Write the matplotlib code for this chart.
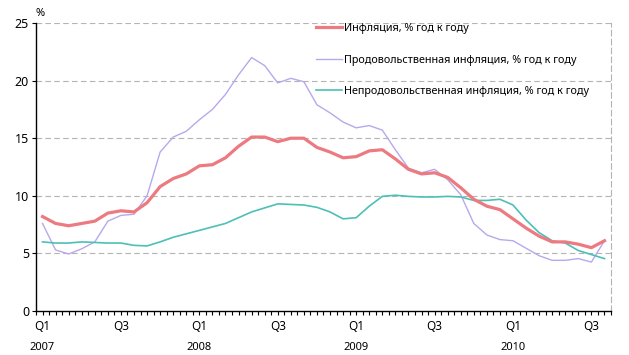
import numpy as np
import matplotlib
matplotlib.use('Agg')
import matplotlib.pyplot as plt
import matplotlib.transforms as mtransforms

plt.rcParams['font.family'] = ['Noto Sans', 'DejaVu Sans']

# месяцы: январь 2007 - август 2010
months = np.arange(44)
quarter_pos = [0, 6, 12, 18, 24, 30, 36, 42]
quarter_lbl = ['Q1', 'Q3', 'Q1', 'Q3', 'Q1', 'Q3', 'Q1', 'Q3']
year_pos = [0, 12, 24, 36]
year_lbl = ['2007', '2008', '2009', '2010']

# инфляция, % год к году
cpi = [8.2, 7.6, 7.4, 7.6, 7.8, 8.5, 8.7, 8.6, 9.4, 10.8, 11.5, 11.9,
       12.6, 12.7, 13.3, 14.3, 15.1, 15.1, 14.7, 15.0, 15.0, 14.2, 13.8, 13.3,
       13.4, 13.9, 14.0, 13.2, 12.3, 11.9, 12.0, 11.6, 10.7, 9.7, 9.1, 8.8,
       8.0, 7.2, 6.5, 6.0, 6.0, 5.8, 5.5, 6.1]
# продовольственная
food = [7.6, 5.3, 4.95, 5.4, 6.0, 7.8, 8.3, 8.4, 10.0, 13.8, 15.1, 15.6,
        16.6, 17.5, 18.8, 20.5, 22.0, 21.3, 19.8, 20.2, 19.9, 17.9, 17.2, 16.4,
        15.9, 16.1, 15.7, 14.0, 12.4, 12.0, 12.3, 11.4, 10.1, 7.6, 6.6, 6.2,
        6.1, 5.45, 4.8, 4.4, 4.4, 4.55, 4.25, 6.1]
# непродовольственная
nonfood = [6.0, 5.9, 5.9, 6.0, 5.95, 5.9, 5.9, 5.7, 5.65, 6.0, 6.4, 6.7,
           7.0, 7.3, 7.6, 8.1, 8.6, 8.95, 9.3, 9.25, 9.2, 9.0, 8.6, 8.0,
           8.1, 9.1, 9.95, 10.05, 9.95, 9.9, 9.9, 9.95, 9.9, 9.6, 9.6, 9.7,
           9.2, 7.9, 6.8, 6.1, 5.9, 5.25, 4.9, 4.55]

fig = plt.figure(figsize=(6.29, 3.55), dpi=100)
ax = fig.add_axes([0.0572, 0.1239, 0.9142, 0.8113])

for y in [5, 10, 15, 20, 25]:
    ax.axhline(y, color='#b4b4b4', lw=0.8, ls=(0, (5, 3)), zorder=0)

ax.plot(months, cpi, color='#ec7a80', lw=2.3, label='Инфляция, % год к году', zorder=3)
ax.plot(months, food, color='#b8a8ec', lw=1.0,
        label='Продовольственная инфляция, % год к году', zorder=2)
ax.plot(months, nonfood, color='#4cc0b6', lw=1.2,
        label='Непродовольственная инфляция, % год к году', zorder=2)

ax.set_xlim(-0.5, 43.5)
ax.set_ylim(0, 25)
ax.set_yticks([0, 5, 10, 15, 20, 25])
ax.set_xticks(np.arange(-0.5, 43.6, 0.5))
ax.set_xticklabels([])
ax.tick_params(axis='x', length=3, width=0.8, direction='out')
ax.tick_params(axis='y', length=3, width=0.8, direction='out', labelsize=9, pad=2)

ax.spines['top'].set_visible(False)
ax.spines['right'].set_color('#b4b4b4')
ax.spines['right'].set_linestyle((0, (5, 3)))
ax.spines['right'].set_linewidth(0.8)
ax.spines['left'].set_linewidth(1.0)
ax.spines['bottom'].set_linewidth(1.0)

trans = mtransforms.blended_transform_factory(ax.transData, fig.transFigure)
for p, s in zip(quarter_pos, quarter_lbl):
    ax.text(p, 1 - 327 / 355, s, transform=trans, ha='center', va='center', fontsize=8.5)
for p, s in zip(year_pos, year_lbl):
    ax.text(p, 1 - 347 / 355, s, transform=trans, ha='center', va='center', fontsize=8)

fig.text(40 / 629, 1 - 13 / 355, '%', ha='center', va='center', fontsize=8)

leg = ax.legend(loc='upper left', bbox_to_anchor=(0.487, 1.0), frameon=False,
                fontsize=7.8, handlelength=2.4, handletextpad=0.15,
                labelspacing=1.9, borderaxespad=0, borderpad=0)

fig.savefig('out.png', dpi=100)
